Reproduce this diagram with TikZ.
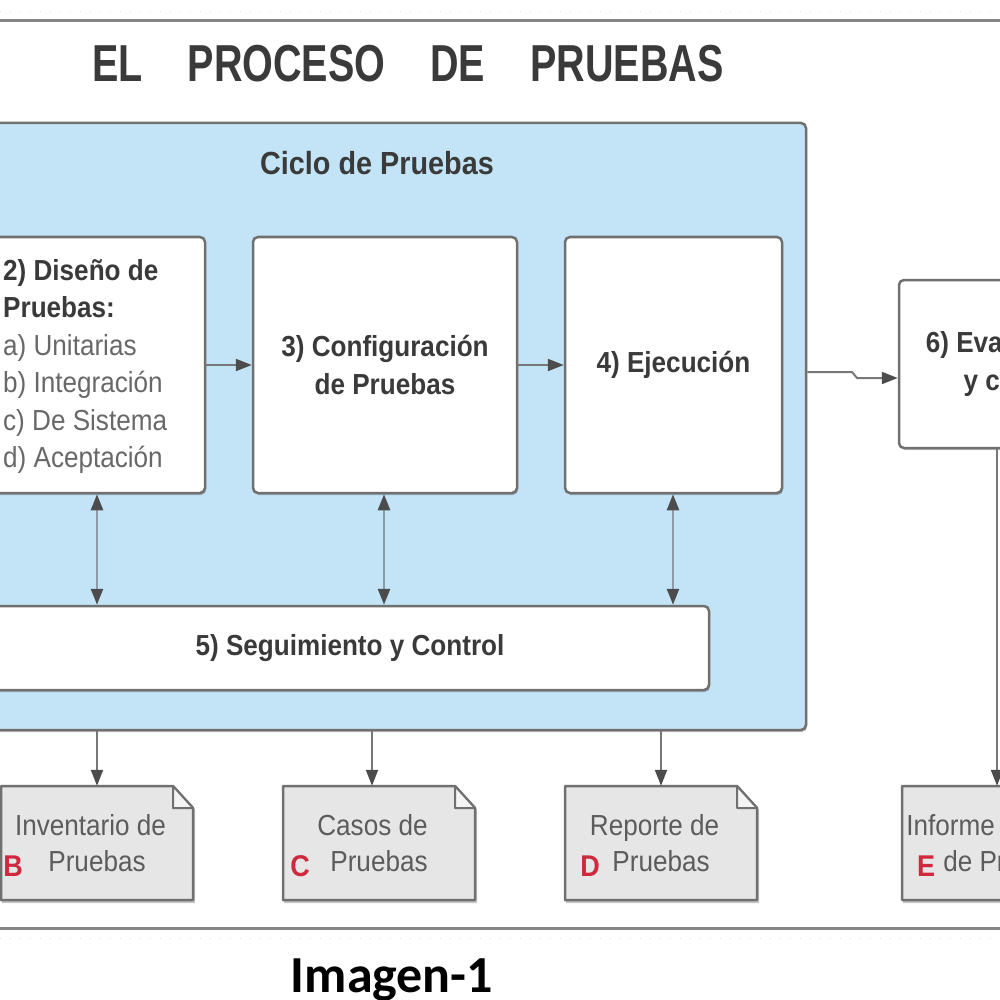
\documentclass[tikz,border=0pt]{standalone}
\usepackage{fontspec}
\setmainfont{Liberation Sans}[FakeStretch=0.9]
\newfontfamily\titlefont{Liberation Sans}[FakeStretch=0.76]
\newfontfamily\capfont{Carlito}
\usetikzlibrary{arrows.meta,shadows}
\definecolor{cycfill}{HTML}{C2E4F6}
\definecolor{bord}{HTML}{707070}
\definecolor{darktext}{HTML}{3A3A3A}
\definecolor{graytext}{HTML}{686868}
\definecolor{doctext}{HTML}{5C5C5C}
\definecolor{docfill}{HTML}{E6E6E6}
\definecolor{foldfill}{HTML}{F4F4F4}
\definecolor{redl}{HTML}{D0283E}
\definecolor{arrowc}{HTML}{4C4C4C}
\definecolor{linec}{HTML}{777777}
\definecolor{dlinec}{HTML}{8C9DA8}
\begin{document}
\begin{tikzpicture}[x=1pt,y=-1pt,
  bx/.style={draw=bord, line width=2.5pt, fill=white, rounded corners=5pt, inner sep=0pt,
    drop shadow={shadow xshift=1pt,shadow yshift=-2pt,opacity=.22,fill=black}},
  boldt/.style={font=\fontsize{29}{37.5}\selectfont\bfseries, text=darktext, align=center},
  doc/.style={minimum width=192pt, minimum height=114pt, inner sep=0pt, align=center,
    text=doctext, font=\fontsize{29}{36}\selectfont},
  redlet/.style={inner sep=0pt, text=redl, font=\fontsize{30}{30}\selectfont\bfseries},
  arr/.style={draw=linec, line width=2pt, -{Triangle[length=16pt,width=12pt,color=arrowc]}},
  darr/.style={draw=dlinec, line width=2.5pt, {Triangle[length=16pt,width=12pt,color=arrowc]}-{Triangle[length=16pt,width=12pt,color=arrowc]}},
  docshape/.pic={
    \fill[black, opacity=.22] (-95,-55) -- (78,-55) -- (98,-33) -- (98,60) -- (-95,60) -- cycle;
    \filldraw[draw=bord, fill=docfill, line width=2.5pt, line join=round]
      (-96,57) -- (-96,-57) -- (76,-57) -- (96,-35) -- (96,57) -- cycle;
    \filldraw[draw=bord, fill=foldfill, line width=2pt, line join=round]
      (76,-57) -- (76,-35) -- (96,-35) -- cycle;
  }]
\useasboundingbox (0,0) rectangle (1000,1000);
\clip (0,0) rectangle (1000,1000);
\fill[white] (0,0) rectangle (1000,1000);

% frame lines
\draw[gray!25, line width=1pt, dash pattern=on 1pt off 9pt] (0,12) -- (1000,12);
\draw[draw=bord!85, line width=3pt] (0,21) -- (1000,21);
\draw[draw=bord!85, line width=3pt] (0,928) -- (1000,928);
\draw[gray!25, line width=1pt, dash pattern=on 1pt off 9pt] (0,938) -- (1000,938);

% title
\node[anchor=base west, inner sep=0pt, text=darktext, font=\titlefont\fontsize{52}{52}\selectfont\bfseries] (title) at (92,82)
  {EL\hspace{45pt}PROCESO\hspace{45pt}DE\hspace{45pt}PRUEBAS};

% cycle container
\node[bx, fill=cycfill, minimum width=858pt, minimum height=607pt] (cyc) at (377,426.5) {};
\node[boldt, font=\fontsize{32}{32}\selectfont\bfseries, anchor=base, inner sep=0pt] (cyct) at (377,175) {Ciclo de Pruebas};

% boxes
\node[bx, minimum width=245pt, minimum height=256pt] (b2) at (82.5,365) {};
\node[anchor=west, align=left, inner sep=0pt, text=graytext, font=\fontsize{29}{37.5}\selectfont] (b2t) at (3,366.5)
  {{\bfseries\color{darktext}2) Diseño de}\\{\bfseries\color{darktext}Pruebas:}\\a) Unitarias\\b) Integración\\c) De Sistema\\d) Aceptación};
\node[bx, boldt, minimum width=264pt, minimum height=256pt] (b3) at (385,365) {3) Configuración\\de Pruebas};
\node[bx, boldt, minimum width=217pt, minimum height=256pt] (b4) at (673.5,365) {4) Ejecución};
\node[bx, boldt, minimum width=718pt, minimum height=84pt] (b5) at (350,648) {5) Seguimiento y Control};
\node[bx, boldt, minimum width=222pt, minimum height=168pt] (b6) at (1010,364) {6) Evaluación\\y cierre};

% documents
\pic at (97,843) {docshape};
\node[doc] (docB) at (97,843) {Inventario de\kern13pt\\Pruebas};
\pic at (379,843) {docshape};
\node[doc] (docC) at (379,843) {Casos de\kern13pt\\Pruebas};
\pic at (661,843) {docshape};
\node[doc] (docD) at (661,843) {Reporte de\kern13pt\\Pruebas};
\pic at (998,843) {docshape};
\node[doc, xshift=12pt] (docE) at (998,843) {Informe Resumen\\de Pruebas};

\node[redlet] (lB) at (13,866) {B};
\node[redlet] (lC) at (300,866) {C};
\node[redlet] (lD) at (590,866) {D};
\node[redlet] (lE) at (926,866) {E};

% connectors
\draw[arr] (b2.east) -- (b3.west);
\draw[arr] (b3.east) -- (b4.west);
\draw[arr] (cyc.east |- 0,372) -- (852,372) -- (857,378) -- (b6.west |- 0,378);
\draw[darr] (b2.south -| 97,0) -- (b5.north -| 97,0);
\draw[darr] (b3.south -| 384,0) -- (b5.north -| 384,0);
\draw[darr] (b4.south -| 673,0) -- (b5.north -| 673,0);
\draw[arr] (cyc.south -| 97,0) -- (docB.north -| 97,0);
\draw[arr] (cyc.south -| 372,0) -- (docC.north -| 372,0);
\draw[arr] (cyc.south -| 661,0) -- (docD.north -| 661,0);
\draw[arr] (b6.south -| 997,0) -- (docE.north -| 997,0);

% caption
\node[anchor=base, inner sep=0pt, text=black, font=\capfont\fontsize{52}{52}\selectfont\bfseries] (cap) at (392,992) {Imagen-1};
\end{tikzpicture}
\end{document}
